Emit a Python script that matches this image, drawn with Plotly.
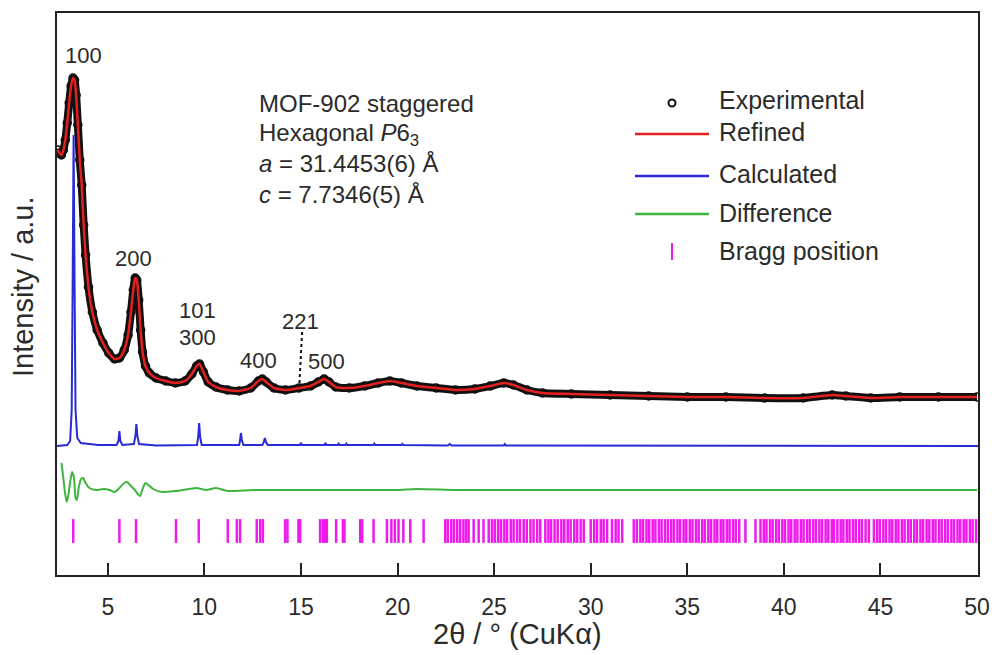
import numpy as np
import plotly.graph_objects as go

# ---- observed / refined profile (2-theta in degrees, intensity in a.u.) ----
two_theta_obs = [2.40, 2.50, 2.60, 2.70, 2.80, 2.90, 3.00, 3.10, 3.20, 3.28, 3.36, 3.45,
                 3.55, 3.65, 3.75, 3.85, 4.00, 4.20, 4.45, 4.75, 5.05, 5.35, 5.60, 5.85,
                 6.05, 6.20, 6.32, 6.42, 6.50, 6.60, 6.70, 6.80, 6.95, 7.15, 7.50, 8.00,
                 8.50, 9.00, 9.35, 9.60, 9.75, 9.95, 10.20, 10.60, 11.20, 11.80, 12.40,
                 12.80, 13.00, 13.20, 13.60, 14.20, 14.90, 15.50, 15.90, 16.20, 16.45,
                 16.80, 17.50, 18.30, 19.00, 19.60, 20.20, 21.00, 22.00, 23.00, 24.00,
                 24.80, 25.50, 26.00, 26.70, 27.50, 29.00, 31.00, 33.00, 35.00, 37.00,
                 39.00, 41.00, 42.50, 43.20, 44.50, 46.00, 48.00, 50.00]
intensity_obs = [425, 422, 420, 425, 435, 452, 472, 489, 497, 495, 480, 450,
                 415, 390, 350, 320, 288, 263, 245, 232, 222, 216, 217, 225,
                 240, 263, 285, 297, 295, 275, 245, 223, 209, 202, 197, 194,
                 192, 194, 201, 209, 211, 203, 193, 188, 185, 184, 187,
                 194, 196, 193, 187, 185, 187, 189, 193, 196, 193,
                 188, 187, 189, 192, 194, 192, 189, 187, 185, 186,
                 189, 192, 190, 185, 182, 181, 180, 179, 178, 178,
                 177, 177, 180, 179, 177, 178, 178, 178]
intensity_refined = intensity_obs

# ---- calculated pattern (offset below the observed one) ----
two_theta_calc = [2.37, 2.90, 3.05, 3.13, 3.18, 3.23, 3.28, 3.33, 3.42, 3.60, 4.50,
                  5.45, 5.55, 5.60, 5.65, 5.75, 6.35, 6.43, 6.48, 6.53, 6.62, 7.50,
                  9.62, 9.68, 9.73, 9.78, 9.86, 11.80, 11.85, 11.89, 11.94, 12.02,
                  13.00, 13.08, 13.13, 13.19, 13.28, 14.95, 15.00, 15.05, 16.22,
                  16.27, 16.32, 16.90, 16.95, 17.00, 17.30, 17.35, 17.40, 18.75,
                  18.80, 18.85, 20.20, 20.25, 20.30, 22.60, 22.70, 22.80, 25.50,
                  25.55, 25.60, 50.05]
intensity_calc = [129, 130, 134, 165, 290, 440, 290, 165, 137, 132, 130,
                  130, 134, 144, 134, 130, 131, 139, 151, 139, 131, 129.5,
                  130, 138, 152, 138, 130, 130, 135, 142, 135, 130,
                  130, 133, 137, 133, 130, 130, 132, 130, 130,
                  132, 130, 130, 131.5, 130, 130, 131.5, 130, 130,
                  131.5, 130, 130, 131, 130, 129.5, 131, 129.5, 129.5,
                  131, 129.5, 129]

# ---- difference curve ----
two_theta_diff = [2.60, 2.68, 2.78, 2.87, 2.96, 3.05, 3.15, 3.25, 3.33, 3.40, 3.50,
                  3.62, 3.73, 3.85, 4.05, 4.40, 4.80, 5.10, 5.35, 5.60, 5.85, 6.00,
                  6.20, 6.40, 6.55, 6.67, 6.80, 6.95, 7.10, 7.35, 7.80, 8.50, 9.20,
                  9.60, 10.10, 10.60, 11.20, 12.50, 14.00, 16.00, 18.00, 20.00,
                  21.00, 23.00, 26.00, 30.00, 35.00, 40.00, 45.00, 50.00]
intensity_diff = [112, 100, 83, 73, 80, 93, 103, 97, 77, 75, 88,
                  96, 97, 92, 87, 85, 86, 85, 83, 87, 92, 93,
                  89, 85, 81, 79, 86, 92, 90, 86, 83, 84, 86,
                  87, 85, 87, 84, 85, 85, 85, 85, 85,
                  86, 85, 85, 85, 85, 85, 85, 85]

# ---- Bragg reflection positions ----
bragg_positions = [
    3.21, 5.60, 6.46, 8.53, 9.71, 11.21, 11.68, 11.85, 12.71, 12.89, 13.03,
    14.18, 14.30, 14.87, 14.96, 15.99, 16.13, 16.25, 16.34, 16.82, 17.17, 17.25,
    18.07, 18.17, 18.76, 19.45, 19.68, 19.86, 20.05, 20.30, 20.66, 21.35,
    22.47, 22.60, 22.78, 22.92, 23.09, 23.24, 23.41, 23.55, 23.68,
    23.94, 24.20, 24.45, 24.72,
    24.89, 25.04, 25.21, 25.36, 25.53, 25.67, 25.86, 26.01, 26.19, 26.34, 26.53,
    26.69, 26.88, 27.04, 27.23, 27.39,
    27.65, 27.81, 27.95, 28.13, 28.29, 28.48, 28.63, 28.81, 28.96, 29.15, 29.30,
    29.48, 29.64,
    30.00, 30.18, 30.33, 30.52, 30.67, 30.85,
    31.10, 31.29, 31.44, 31.63,
    32.23, 32.39, 32.57, 32.71, 32.89, 33.03, 33.21, 33.35, 33.53, 33.67, 33.85,
    34.00, 34.17, 34.31, 34.49, 34.63, 34.81, 34.95, 35.13, 35.27, 35.45, 35.59,
    35.77, 35.91, 36.09, 36.23, 36.41, 36.55, 36.73, 36.87, 37.05, 37.19, 37.37,
    37.51, 37.69,
    38.01, 38.53,
    38.79, 38.96, 39.10, 39.28, 39.42, 39.60, 39.74, 39.92, 40.06, 40.24, 40.38,
    40.56, 40.70, 40.88, 41.02, 41.20, 41.34, 41.52, 41.66, 41.84, 41.98, 42.16,
    42.30, 42.48, 42.59,
    42.77, 42.94, 43.08, 43.26, 43.40, 43.58, 43.72, 43.90, 44.04, 44.23,
    44.40,
    44.66, 44.83, 44.97, 45.15, 45.29, 45.47, 45.61, 45.79, 45.93, 46.11, 46.25,
    46.43, 46.57, 46.75, 46.89, 47.07, 47.21, 47.39, 47.53, 47.71, 47.85, 48.03,
    48.17, 48.35, 48.49, 48.67, 48.81, 48.99, 49.13, 49.31, 49.45, 49.63, 49.77,
    49.95]
BRAGG_LEVEL = 44

# ---- peak index labels ----
hkl_labels = ["100", "200", "101", "300", "400", "221", "500"]
hkl_x = [3.74, 6.33, 9.65, 9.65, 12.81, 14.96, 16.33]
hkl_y = [520, 317, 265, 238, 215, 254, 214]

x_tick_values = [5, 10, 15, 20, 25, 30, 35, 40, 45, 50]

FONT = "Liberation Sans, Arial, sans-serif"
C_OBS = "#111111"
C_REF = "#e3201f"
C_CALC = "#2a2ad6"
C_DIFF = "#3db540"
C_BRAGG = "#ee1aee"
TXT = "#2b2b2b"

# plot-area geometry in pixels (used for the hand-drawn legend and notes)
W, H = 992, 655
L, R, T, B = 57, 978, 13, 575


def paper(px, py):
    return (px - L) / (R - L), (B - py) / (B - T)


fig = go.Figure()

fig.add_trace(go.Scatter(
    x=two_theta_obs, y=intensity_obs, mode="lines+markers", name="Experimental",
    line=dict(color=C_OBS, width=8, shape="spline", smoothing=0.6),
    marker=dict(symbol="circle-open", size=8, color=C_OBS, line=dict(width=1.5)),
    showlegend=False))
fig.add_trace(go.Scatter(
    x=two_theta_obs, y=intensity_refined, mode="lines", name="Refined",
    line=dict(color=C_REF, width=2.5, shape="spline", smoothing=0.6),
    showlegend=False))
fig.add_trace(go.Scatter(
    x=two_theta_calc, y=intensity_calc, mode="lines", name="Calculated",
    line=dict(color=C_CALC, width=2), showlegend=False))
fig.add_trace(go.Scatter(
    x=two_theta_diff, y=intensity_diff, mode="lines", name="Difference",
    line=dict(color=C_DIFF, width=2, shape="spline", smoothing=0.6),
    showlegend=False))
fig.add_trace(go.Scatter(
    x=bragg_positions, y=np.full(len(bragg_positions), BRAGG_LEVEL), mode="markers",
    name="Bragg position",
    marker=dict(symbol="line-ns", size=17, color=C_BRAGG,
                line=dict(color=C_BRAGG, width=2.5)),
    showlegend=False))

annotations = []
for lab, xv, yv in zip(hkl_labels, hkl_x, hkl_y):
    annotations.append(dict(x=xv, y=yv, xref="x", yref="y", text=lab, showarrow=False,
                            font=dict(family=FONT, size=22, color=TXT),
                            xanchor="center", yanchor="middle"))

# structure notes
notes = ["MOF-902 staggered",
         "Hexagonal <i>P</i>6<sub>3</sub>",
         "<i>a</i> = 31.4453(6) Å",
         "<i>c</i> = 7.7346(5) Å"]
for txt, py in zip(notes, [104, 134, 164, 194]):
    px_, py_ = paper(257, py)
    annotations.append(dict(x=px_, y=py_, xref="paper", yref="paper", text=txt,
                            showarrow=False, xanchor="left", yanchor="middle",
                            font=dict(family=FONT, size=24, color=TXT)))

# legend drawn by hand
legend_items = [("Experimental", 100), ("Refined", 132), ("Calculated", 174),
                ("Difference", 213), ("Bragg position", 251)]
for txt, py in legend_items:
    px_, py_ = paper(717, py)
    annotations.append(dict(x=px_, y=py_, xref="paper", yref="paper", text=txt,
                            showarrow=False, xanchor="left", yanchor="middle",
                            font=dict(family=FONT, size=25, color=TXT)))

shapes = []
r0 = paper(668.5, 106.5)
r1 = paper(675.5, 99.5)
shapes.append(dict(type="circle", xref="paper", yref="paper", x0=r0[0], y0=r0[1],
                   x1=r1[0], y1=r1[1], line=dict(color=C_OBS, width=2)))
for col, py in [(C_REF, 134), (C_CALC, 176), (C_DIFF, 214)]:
    a = paper(635, py)
    b = paper(709, py)
    shapes.append(dict(type="line", xref="paper", yref="paper", x0=a[0], y0=a[1],
                       x1=b[0], y1=b[1], line=dict(color=col, width=2.5)))
a = paper(672, 243)
b = paper(672, 260)
shapes.append(dict(type="line", xref="paper", yref="paper", x0=a[0], y0=a[1],
                   x1=b[0], y1=b[1], line=dict(color=C_BRAGG, width=2)))

# dotted guide for the 221 reflection
shapes.append(dict(type="line", xref="x", yref="y", x0=15.06, y0=243, x1=14.92, y1=192,
                   line=dict(color="#111111", width=2, dash="dot")))

# axis titles
tx, ty = paper((L + R) / 2, 634)
annotations.append(dict(x=tx, y=ty, xref="paper", yref="paper",
                        text="2θ / ° (CuKα)", showarrow=False,
                        xanchor="center", yanchor="middle",
                        font=dict(family=FONT, size=29, color=TXT)))
tx, ty = paper(23, 287)
annotations.append(dict(x=tx, y=ty, xref="paper", yref="paper",
                        text="Intensity / a.u.", showarrow=False, textangle=-90,
                        xanchor="center", yanchor="middle",
                        font=dict(family=FONT, size=29, color=TXT)))

fig.update_layout(
    width=W, height=H,
    margin=dict(l=L, r=W - R, t=T, b=H - B, autoexpand=False),
    paper_bgcolor="white", plot_bgcolor="white",
    annotations=annotations, shapes=shapes,
    font=dict(family=FONT, color=TXT),
)
fig.update_xaxes(range=[2.37, 50.05], tickvals=x_tick_values, ticks="inside",
                 ticklen=12, tickwidth=1.5, tickcolor="#222222",
                 showline=True, linecolor="#222222", linewidth=2, mirror=True,
                 showgrid=False, zeroline=False, automargin=False,
                 tickfont=dict(family=FONT, size=23, color=TXT),
                 ticklabelstandoff=10)
fig.update_yaxes(range=[0, 562], showticklabels=False, ticks="",
                 showline=True, linecolor="#222222", linewidth=2, mirror=True,
                 showgrid=False, zeroline=False, automargin=False)

fig.write_html("out.html")
